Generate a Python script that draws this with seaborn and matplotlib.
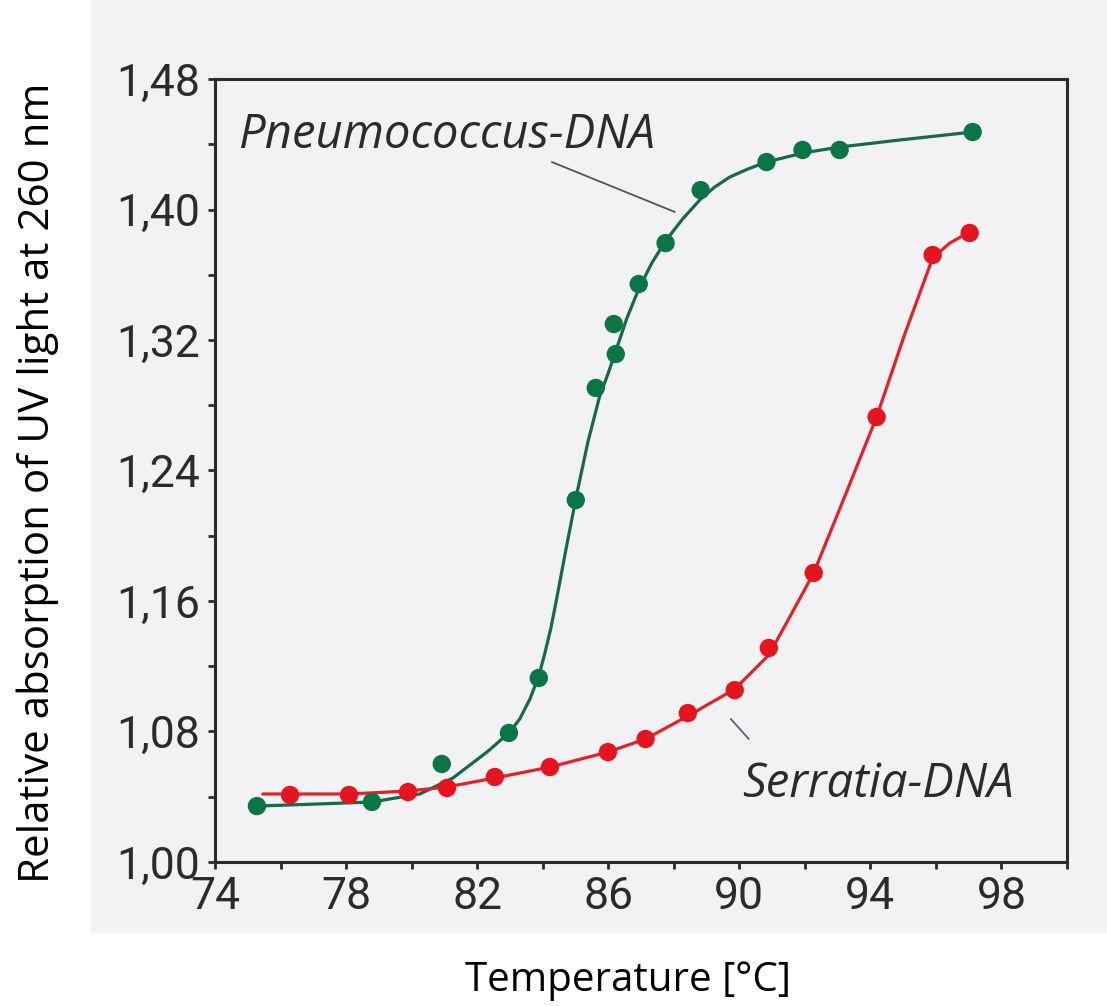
import matplotlib
matplotlib.use("Agg")
import matplotlib.pyplot as plt
from matplotlib.patches import Rectangle
from matplotlib.ticker import MultipleLocator, FuncFormatter
import seaborn as sns
import pandas as pd

pneumo_temp = [75.28, 78.79, 80.92, 82.97, 83.88, 85.01, 85.62, 86.23, 86.17,
               86.93, 87.75, 88.82, 90.83, 91.93, 93.06, 97.12]
pneumo_abs = [1.0343, 1.0368, 1.0601, 1.0791, 1.1128, 1.2219, 1.2906, 1.3114, 1.3298,
              1.3543, 1.3794, 1.4119, 1.4291, 1.4365, 1.4365, 1.4475]

serratia_temp = [76.29, 78.09, 79.89, 81.08, 82.54, 84.22, 85.99, 87.14, 88.43,
                 89.86, 90.90, 92.27, 94.19, 95.90, 97.03]
serratia_abs = [1.0411, 1.0411, 1.0429, 1.0454, 1.0521, 1.0582, 1.0674, 1.0754, 1.0913,
                1.1054, 1.1312, 1.1772, 1.2728, 1.3721, 1.3856]

# drawn fit curves
pneumo_curve_t = [75.28, 77.20, 78.79, 80.25, 81.26, 82.30, 83.00, 83.30, 83.61, 83.88,
                  84.06, 84.25, 84.43, 84.70, 85.04, 85.38, 85.74, 85.99, 86.23, 86.56,
                  86.93, 87.33, 87.75, 88.27, 88.82, 89.25, 89.71, 90.26, 90.83, 91.93,
                  93.06, 94.89, 97.12]
pneumo_curve_a = [1.0343, 1.0356, 1.0368, 1.0417, 1.0515, 1.0674, 1.0797, 1.0877, 1.0999, 1.1140,
                  1.1275, 1.1434, 1.1618, 1.1906, 1.2256, 1.2575, 1.2857, 1.2991, 1.3132, 1.3329,
                  1.3512, 1.3672, 1.3807, 1.3942, 1.4064, 1.4138, 1.4199, 1.4248, 1.4291, 1.4346,
                  1.4383, 1.4426, 1.4475]

serratia_curve_t = [75.46, 78.09, 79.89, 81.08, 82.54, 84.22, 85.99, 87.14, 88.43, 89.86,
                    90.90, 91.54, 92.27, 93.21, 94.19, 95.04, 95.90, 96.42, 97.03]
serratia_curve_a = [1.0417, 1.0417, 1.0435, 1.0460, 1.0515, 1.0582, 1.0674, 1.0754, 1.0895, 1.1060,
                    1.1269, 1.1502, 1.1772, 1.2237, 1.2728, 1.3231, 1.3703, 1.3794, 1.3862]

y_ticks = [1.00, 1.08, 1.16, 1.24, 1.32, 1.40, 1.48]
x_ticks = [74, 78, 82, 86, 90, 94, 98]

green_pt = "#0b7545"
green_ln = "#17694a"
red_pt = "#e5141e"
red_ln = "#e02329"
bg = "#f2f2f4"
ink = "#2b2b2b"

sns.set_theme(style="ticks")
plt.rcParams["font.family"] = ["Roboto", "DejaVu Sans"]

fig = plt.figure(figsize=(11.07, 10.06), dpi=100)
fig.patch.set_facecolor("white")
# grey scan background behind the plot
fig.patches.append(Rectangle((91 / 1107, 73 / 1006), 1 - 91 / 1107, 1 - 73 / 1006,
                             transform=fig.transFigure, facecolor=bg,
                             edgecolor="none", zorder=-5))
ax = fig.add_axes([215 / 1107, 144 / 1006, 852 / 1107, 783 / 1006])
ax.set_facecolor(bg)

pn_curve = pd.DataFrame({"t": pneumo_curve_t, "a": pneumo_curve_a})
se_curve = pd.DataFrame({"t": serratia_curve_t, "a": serratia_curve_a})
pn = pd.DataFrame({"t": pneumo_temp, "a": pneumo_abs})
se = pd.DataFrame({"t": serratia_temp, "a": serratia_abs})

sns.lineplot(data=pn_curve, x="t", y="a", ax=ax, color=green_ln, lw=2.3,
             sort=False, estimator=None, zorder=2)
sns.lineplot(data=se_curve, x="t", y="a", ax=ax, color=red_ln, lw=2.3,
             sort=False, estimator=None, zorder=2)
sns.scatterplot(data=pn, x="t", y="a", ax=ax, color=green_pt, s=175,
                edgecolor="none", zorder=3)
sns.scatterplot(data=se, x="t", y="a", ax=ax, color=red_pt, s=175,
                edgecolor="none", zorder=3)

# labels with leader lines
ax.plot([84.28, 88.03], [1.4291, 1.3985], color="#555555", lw=1.3, zorder=1)
ax.plot([89.74, 90.29], [1.0877, 1.0754], color="#6a5a6a", lw=1.3, zorder=1)
ax.text(74.70, 1.4377, "Pneumococcus-DNA", fontsize=34, style="italic",
        family=["Open Sans", "DejaVu Sans"], color=ink, va="baseline", ha="left")
ax.text(90.07, 1.0398, "Serratia-DNA", fontsize=34, style="italic",
        family=["Open Sans", "DejaVu Sans"], color=ink, va="baseline", ha="left")

ax.set_xlim(74, 100)
ax.set_ylim(1.00, 1.48)
ax.set_xticks(x_ticks)
ax.set_yticks(y_ticks)
ax.xaxis.set_minor_locator(MultipleLocator(2))
ax.yaxis.set_minor_locator(MultipleLocator(0.04))
ax.yaxis.set_major_formatter(FuncFormatter(lambda v, p: f"{v:.2f}".replace(".", ",")))
ax.tick_params(which="both", direction="out", length=5, width=2, color=ink,
               labelsize=32, labelcolor=ink)
ax.tick_params(axis="y", pad=6)
ax.tick_params(axis="x", pad=5)
for s in ax.spines.values():
    s.set_linewidth(2.2)
    s.set_color(ink)

ax.set_xlabel("")
ax.set_ylabel("")
fig.text(628 / 1107, 1 - 981 / 1006, "Temperature [°C]", fontsize=29,
         family=["Open Sans", "DejaVu Sans"], color="black", ha="center", va="center")
fig.text(38 / 1107, 1 - 483 / 1006, "Relative absorption of UV light at 260 nm",
         fontsize=30.3, family=["Open Sans", "DejaVu Sans"], color="black",
         rotation=90, ha="center", va="center")

fig.savefig("out.png", dpi=100, facecolor="white")
